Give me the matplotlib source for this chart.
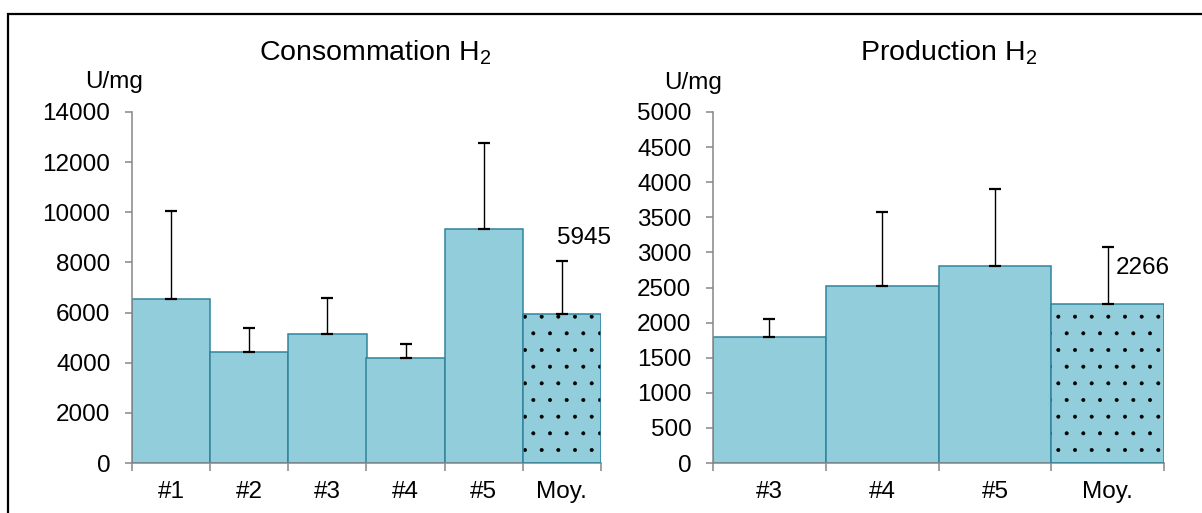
import numpy as np
import matplotlib.pyplot as plt
from matplotlib.patches import Rectangle

plt.rcParams['font.family'] = ['Liberation Sans', 'DejaVu Sans']
plt.rcParams['mathtext.fontset'] = 'custom'
plt.rcParams['mathtext.rm'] = 'Liberation Sans'
plt.rcParams['hatch.linewidth'] = 0.4

# Consommation H2
cons_labels = ["#1", "#2", "#3", "#4", "#5", "Moy."]
cons_values = [6540, 4445, 5136, 4207, 9342, 5945]
cons_err = [3520, 956, 1460, 530, 3424, 2110]

# Production H2
prod_labels = ["#3", "#4", "#5", "Moy."]
prod_values = [1790, 2517, 2805, 2266]
prod_err = [260, 1064, 1098, 809]

fill_col = "#92CDDC"
edge_col = "#31849B"
axis_col = "#868686"
fs = 17.5


def draw(ax, labels, values, err, ymax, ystep, title, title_x, lbl_off):
    x = np.arange(len(labels))
    # plain bars
    ax.bar(x[:-1], values[:-1], width=1.0, color=fill_col, edgecolor=edge_col, linewidth=1.1, zorder=2)
    # mean bar : dotted fill + outline
    ax.bar(x[-1], values[-1], width=1.0, color=fill_col, edgecolor='black', linewidth=0, hatch='.', zorder=2)
    ax.bar(x[-1], values[-1], width=1.0, fill=False, edgecolor=edge_col, linewidth=1.1, zorder=3)
    # upper error bars only
    ax.errorbar(x, values, yerr=[np.zeros(len(err)), err], fmt='none', ecolor='black',
                elinewidth=1.0, capsize=4, capthick=1.6, zorder=4)
    ax.annotate(str(values[-1]), (x[-1], values[-1]), xytext=lbl_off, textcoords='offset pixels',
                ha='center', va='center', fontsize=fs)

    ax.set_xlim(-0.5, len(labels) - 0.5)
    ax.set_ylim(0, ymax)
    ax.set_xticks(x)
    ax.set_xticklabels(labels)
    ax.set_xticks(np.arange(-0.5, len(labels)), minor=True)
    ax.set_yticks(np.arange(0, ymax + 1, ystep))
    ax.tick_params(axis='x', which='major', length=0, pad=13, labelsize=fs)
    ax.tick_params(axis='x', which='minor', length=5.5, width=1.1, color=axis_col, direction='out')
    ax.tick_params(axis='y', length=5, width=1.1, color=axis_col, pad=10.5, labelsize=fs)
    for s in ['top', 'right']:
        ax.spines[s].set_visible(False)
    for s in ['left', 'bottom']:
        ax.spines[s].set_color(axis_col)
        ax.spines[s].set_linewidth(1.1)

    ax.text(title_x, 1.148, title, transform=ax.transAxes, ha='center', va='baseline', fontsize=20.5)


fig = plt.figure(figsize=(12.02, 5.13), dpi=100)
ax1 = fig.add_axes([132 / 1202, 50 / 513, 469 / 1202, 351 / 513])
ax2 = fig.add_axes([713 / 1202, 50 / 513, 451 / 1202, 351 / 513])

draw(ax1, cons_labels, cons_values, cons_err, 14000, 2000, r"Consommation H$_{\mathrm{2}}$", 0.518, (22, 76))
draw(ax2, prod_labels, prod_values, prod_err, 5000, 500, r"Production H$_{\mathrm{2}}$", 0.523, (35, 36))

fig.text(114 / 1202, 1 - 82 / 513, "U/mg", ha='center', va='center', fontsize=fs)
fig.text(693 / 1202, 1 - 83 / 513, "U/mg", ha='center', va='center', fontsize=fs)

# frame around the whole chart
fig.patches.append(Rectangle((8 / 1202, -0.2), 2, 1.2 - 14 / 513, transform=fig.transFigure,
                             fill=False, edgecolor='black', linewidth=1.6))

fig.savefig("out.png", dpi=100)
